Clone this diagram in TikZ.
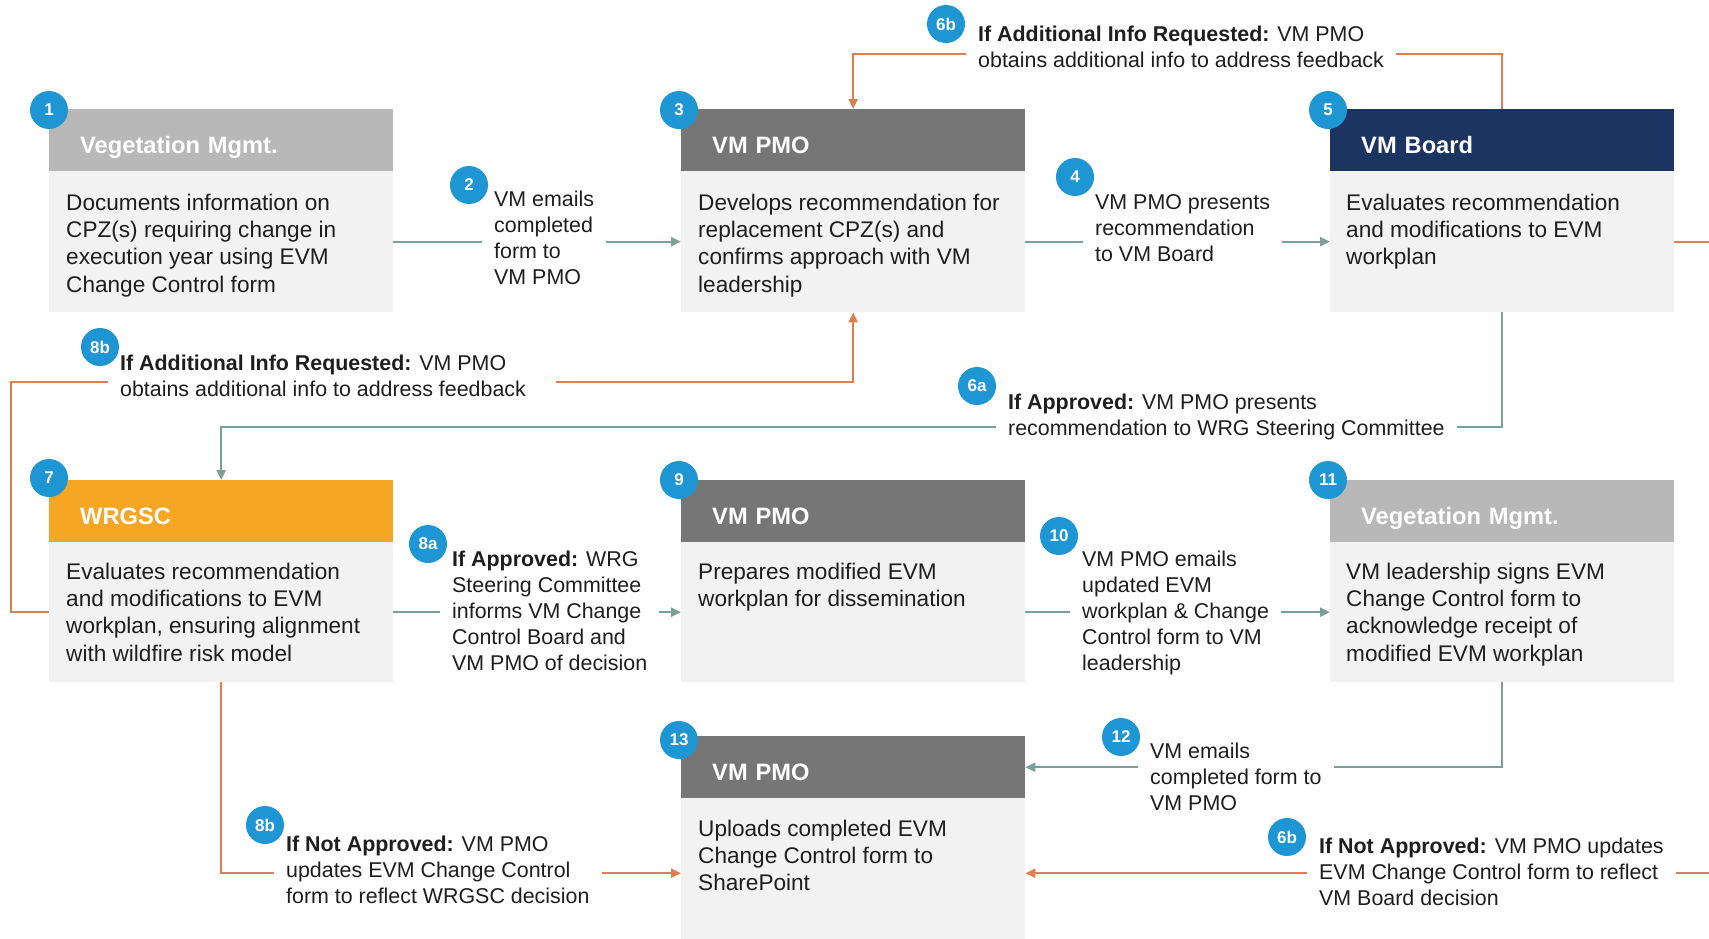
\documentclass[tikz,border=0pt]{standalone}
\usepackage{fontspec}
\setmainfont{Liberation Sans}
\usetikzlibrary{arrows.meta,calc}
\definecolor{veg}{HTML}{B8B8B8}
\definecolor{pmo}{HTML}{767676}
\definecolor{board}{HTML}{1C3461}
\definecolor{wrg}{HTML}{F5A623}
\definecolor{bodyc}{HTML}{F2F2F2}
\definecolor{badgec}{HTML}{1E96D3}
\definecolor{gcon}{HTML}{7BA098}
\definecolor{ocon}{HTML}{DE7E52}
\definecolor{ink}{HTML}{1E1E1E}
\begin{document}
\begin{tikzpicture}[x=1pt,y=-1pt,
  hdr/.style={anchor=north west, minimum height=62pt, text width=282pt, inner xsep=31pt, inner ysep=0pt, align=left, text=white, text height=26pt, text depth=0pt, font=\bfseries\fontsize{23.7}{27}\selectfont},
  bodybox/.style={anchor=north west, minimum width=344pt, minimum height=141pt, inner sep=0pt, fill=bodyc},
  btxt/.style={anchor=north west, inner sep=0pt, align=left, text=ink, font=\fontsize{22.6}{27.2}\selectfont},
  lbl/.style={anchor=north west, inner xsep=12pt, inner ysep=0pt, align=left, text=ink, font=\fontsize{21.4}{26}\selectfont},
  badge/.style={circle, fill=badgec, text=white, minimum size=38pt, inner sep=0pt, font=\bfseries\fontsize{17}{17}\selectfont},
  gl/.style={draw=gcon, line width=2.3pt},
  ol/.style={draw=ocon, line width=2.3pt},
  >={Triangle[length=10pt,width=9pt]}
]
\useasboundingbox (0,0) rectangle (1709,938);
\clip (0,0) rectangle (1709,938);
\fill[white] (0,0) rectangle (1709,938);

% ---------- Row 1 ----------
\node[hdr, fill=veg] (h1) at (49,109) {Vegetation Mgmt.};
\node[bodybox] (b1) at (49,171) {};
\node[btxt] (t1) at (66,194) {Documents information on\\CPZ(s) requiring change in\\execution year using EVM\\Change Control form};

\node[hdr, fill=pmo] (h3) at (681,109) {VM PMO};
\node[bodybox] (b3) at (681,171) {};
\node[btxt] (t3) at (698,194) {Develops recommendation for\\replacement CPZ(s) and\\confirms approach with VM\\leadership};

\node[hdr, fill=board] (h5) at (1330,109) {VM Board};
\node[bodybox] (b5) at (1330,171) {};
\node[btxt] (t5) at (1346,194) {Evaluates recommendation\\and modifications to EVM\\workplan};

% ---------- Row 2 ----------
\node[hdr, fill=wrg] (h7) at (49,480) {WRGSC};
\node[bodybox, minimum height=140pt] (b7) at (49,542) {};
\node[btxt] (t7) at (66,563) {Evaluates recommendation\\and modifications to EVM\\workplan, ensuring alignment\\with wildfire risk model};

\node[hdr, fill=pmo] (h9) at (681,480) {VM PMO};
\node[bodybox, minimum height=140pt] (b9) at (681,542) {};
\node[btxt] (t9) at (698,563) {Prepares modified EVM\\workplan for dissemination};

\node[hdr, fill=veg] (h11) at (1330,480) {Vegetation Mgmt.};
\node[bodybox, minimum height=140pt] (b11) at (1330,542) {};
\node[btxt] (t11) at (1346,563) {VM leadership signs EVM\\Change Control form to\\acknowledge receipt of\\modified EVM workplan};

% ---------- Row 3 ----------
\node[hdr, fill=pmo] (h13) at (681,736) {VM PMO};
\node[bodybox, minimum height=150pt] (b13) at (681,798) {};
\node[btxt] (t13) at (698,820) {Uploads completed EVM\\Change Control form to\\SharePoint};

% ---------- Labels ----------
\node[lbl] (l2) at (482,191) {VM emails\\completed\\form to\\VM PMO};
\node[lbl] (l4) at (1083,194) {VM PMO presents\\recommendation\\to VM Board};
\node[lbl] (l6bt) at (966,26) {\textbf{If Additional Info Requested:} VM PMO\\obtains additional info to address feedback};
\node[lbl] (l8bt) at (108,355) {\textbf{If Additional Info Requested:} VM PMO\\obtains additional info to address feedback};
\node[lbl] (l6a) at (996,394) {\textbf{If Approved:} VM PMO presents\\recommendation to WRG Steering Committee};
\node[lbl] (l8a) at (440,551) {\textbf{If Approved:} WRG\\Steering Committee\\informs VM Change\\Control Board and\\VM PMO of decision};
\node[lbl] (l10) at (1070,551) {VM PMO emails\\updated EVM\\workplan \& Change\\Control form to VM\\leadership};
\node[lbl] (l12) at (1138,743) {VM emails\\completed form to\\VM PMO};
\node[lbl] (l8bb) at (274,836) {\textbf{If Not Approved:} VM PMO\\updates EVM Change Control\\form to reflect WRGSC decision};
\node[lbl] (l6bb) at (1307,838) {\textbf{If Not Approved:} VM PMO updates\\EVM Change Control form to reflect\\VM Board decision};

% ---------- helper coordinates ----------
\coordinate (y6bt) at (0,54);
\coordinate (y8b) at (0,382);
\coordinate (y6a) at (0,427);
\coordinate (xl) at (11,0);
\coordinate (xr) at (1740,0);
\coordinate (l8bte) at ([xshift=18pt]l8bt.east);

% ---------- Connectors ----------
\draw[gl] (b1.east) -- (b1.east -| l2.west);
\draw[gl,->] (b1.east -| l2.east) -- (b3.west);
\draw[gl] (b3.east) -- (b3.east -| l4.west);
\draw[gl,->] (b3.east -| l4.east) -- (b5.west);

\draw[ol] (h5.north) |- (l6bt.east |- y6bt);
\draw[ol,->] (l6bt.west |- y6bt) -| (h3.north);

\draw[ol] (b5.east) -| (xr |- b13.east) -- (l6bb.east |- b13.east);
\draw[ol,->] (l6bb.west |- b13.east) -- (b13.east);

\draw[gl] (b5.south) |- (l6a.east |- y6a);
\draw[gl,->] (l6a.west |- y6a) -| (h7.north);

\draw[ol] (b7.west) -| (xl |- y8b) -- (l8bt.west |- y8b);
\draw[ol,->] (l8bte |- y8b) -| (b3.south);

\draw[gl] (b7.east) -- (b7.east -| l8a.west);
\draw[gl,->] (b7.east -| l8a.east) -- (b9.west);
\draw[gl] (b9.east) -- (b9.east -| l10.west);
\draw[gl,->] (b9.east -| l10.east) -- (b11.west);

\draw[gl] (b11.south) |- (l12.east |- h13.east);
\draw[gl,->] (l12.west |- h13.east) -- (h13.east);

\draw[ol] (b7.south) |- (l8bb.west |- b13.west);
\draw[ol,->] (l8bb.east |- b13.west) -- (b13.west);

% ---------- Badges ----------
\node[badge] (k1) at (49,110) {1};
\node[badge] (k2) at (469,185) {2};
\node[badge] (k3) at (679,110) {3};
\node[badge] (k4) at (1075,177) {4};
\node[badge] (k5) at (1328,110) {5};
\node[badge] (k6bt) at (946,24) {6b};
\node[badge] (k8bt) at (100,347) {8b};
\node[badge] (k6a) at (977,386) {6a};
\node[badge] (k7) at (49,478) {7};
\node[badge] (k8a) at (428,544) {8a};
\node[badge] (k9) at (679,480) {9};
\node[badge] (k10) at (1059,536) {10};
\node[badge] (k11) at (1328,480) {11};
\node[badge] (k12) at (1121,737) {12};
\node[badge] (k13) at (679,740) {13};
\node[badge] (k8bb) at (265,825) {8b};
\node[badge] (k6bb) at (1287,837) {6b};
\end{tikzpicture}
\end{document}
